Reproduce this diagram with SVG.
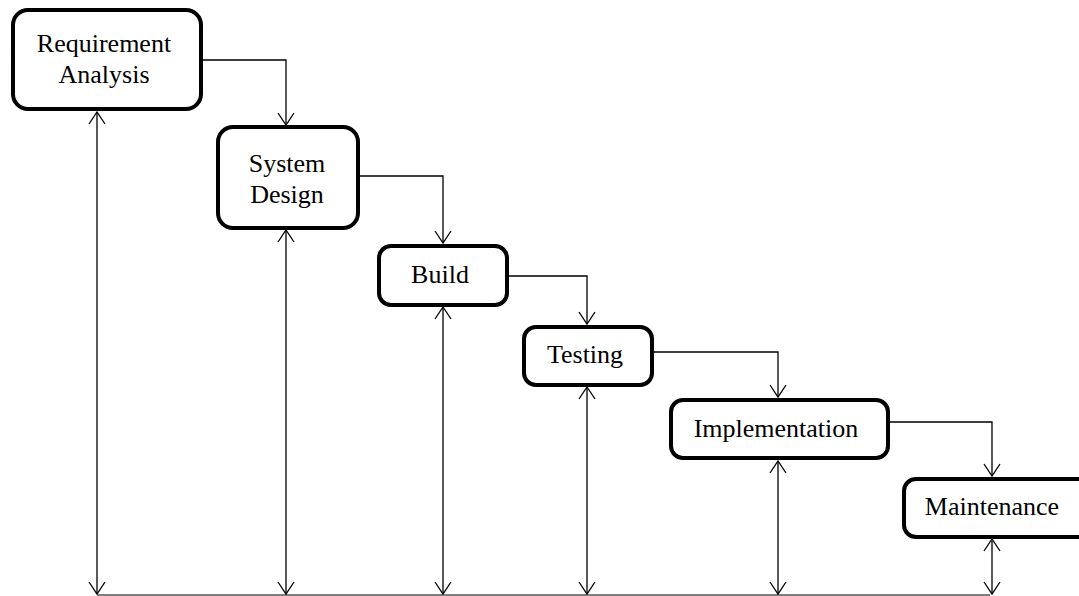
<svg xmlns="http://www.w3.org/2000/svg" width="1079" height="596" viewBox="0 0 1079 596">
  <style>
    .box { fill: #ffffff; stroke: #000000; stroke-width: 4; }
    .lbl { font-family: "Liberation Serif", "Times New Roman", serif; font-size: 26px; fill: #000000; text-anchor: middle; }
    .flow { fill: none; stroke: #000000; stroke-width: 1.3; }
    .base { fill: none; stroke: #555555; stroke-width: 1.3; }
  </style>
  <defs>
    <marker id="open-end" markerUnits="userSpaceOnUse" markerWidth="18" markerHeight="20" refX="13" refY="9" orient="auto">
      <path d="M1,1 L13,9 L1,17" fill="none" stroke="#000000" stroke-width="1.3"/>
    </marker>
    <marker id="open-start" markerUnits="userSpaceOnUse" markerWidth="18" markerHeight="20" refX="1" refY="9" orient="auto">
      <path d="M13,1 L1,9 L13,17" fill="none" stroke="#000000" stroke-width="1.3"/>
    </marker>
  </defs>

  <rect width="1079" height="596" fill="#ffffff"/>

  <!-- connectors -->
  <g id="connectors">
    <!-- stage-to-stage flow -->
    <path class="flow" d="M201,60 H286 V125" marker-end="url(#open-end)"/>
    <path class="flow" d="M358,176 H443 V243" marker-end="url(#open-end)"/>
    <path class="flow" d="M507,276 H587 V324" marker-end="url(#open-end)"/>
    <path class="flow" d="M652,352 H778 V397" marker-end="url(#open-end)"/>
    <path class="flow" d="M888,422 H992 V476" marker-end="url(#open-end)"/>
    <!-- feedback lines to the base line -->
    <line class="base" x1="97" y1="595" x2="990" y2="595"/>
    <path class="flow" d="M97,112 V594" marker-start="url(#open-start)" marker-end="url(#open-end)"/>
    <path class="flow" d="M286,230 V594" marker-start="url(#open-start)" marker-end="url(#open-end)"/>
    <path class="flow" d="M443,307 V594" marker-start="url(#open-start)" marker-end="url(#open-end)"/>
    <path class="flow" d="M587,387 V594" marker-start="url(#open-start)" marker-end="url(#open-end)"/>
    <path class="flow" d="M778,461 V594" marker-start="url(#open-start)" marker-end="url(#open-end)"/>
    <path class="flow" d="M992,539 V594" marker-start="url(#open-start)" marker-end="url(#open-end)"/>
  </g>

  <g id="requirement-analysis">
    <rect class="box" x="13" y="10" width="188" height="99" rx="15"/>
    <text class="lbl" x="104" y="52">Requirement</text>
    <text class="lbl" x="104" y="83">Analysis</text>
  </g>

  <g id="system-design">
    <rect class="box" x="218" y="127" width="140" height="101" rx="15"/>
    <text class="lbl" x="287" y="172">System</text>
    <text class="lbl" x="287" y="203">Design</text>
  </g>

  <g id="build">
    <rect class="box" x="379" y="246" width="128" height="59" rx="12"/>
    <text class="lbl" x="440" y="283">Build</text>
  </g>

  <g id="testing">
    <rect class="box" x="524" y="327" width="128" height="58" rx="12"/>
    <text class="lbl" x="585" y="363">Testing</text>
  </g>

  <g id="implementation">
    <rect class="box" x="671" y="400" width="217" height="58" rx="12"/>
    <text class="lbl" x="776" y="437">Implementation</text>
  </g>

  <g id="maintenance">
    <rect class="box" x="904" y="479" width="190" height="58" rx="12"/>
    <text class="lbl" x="992" y="515">Maintenance</text>
  </g>
</svg>
